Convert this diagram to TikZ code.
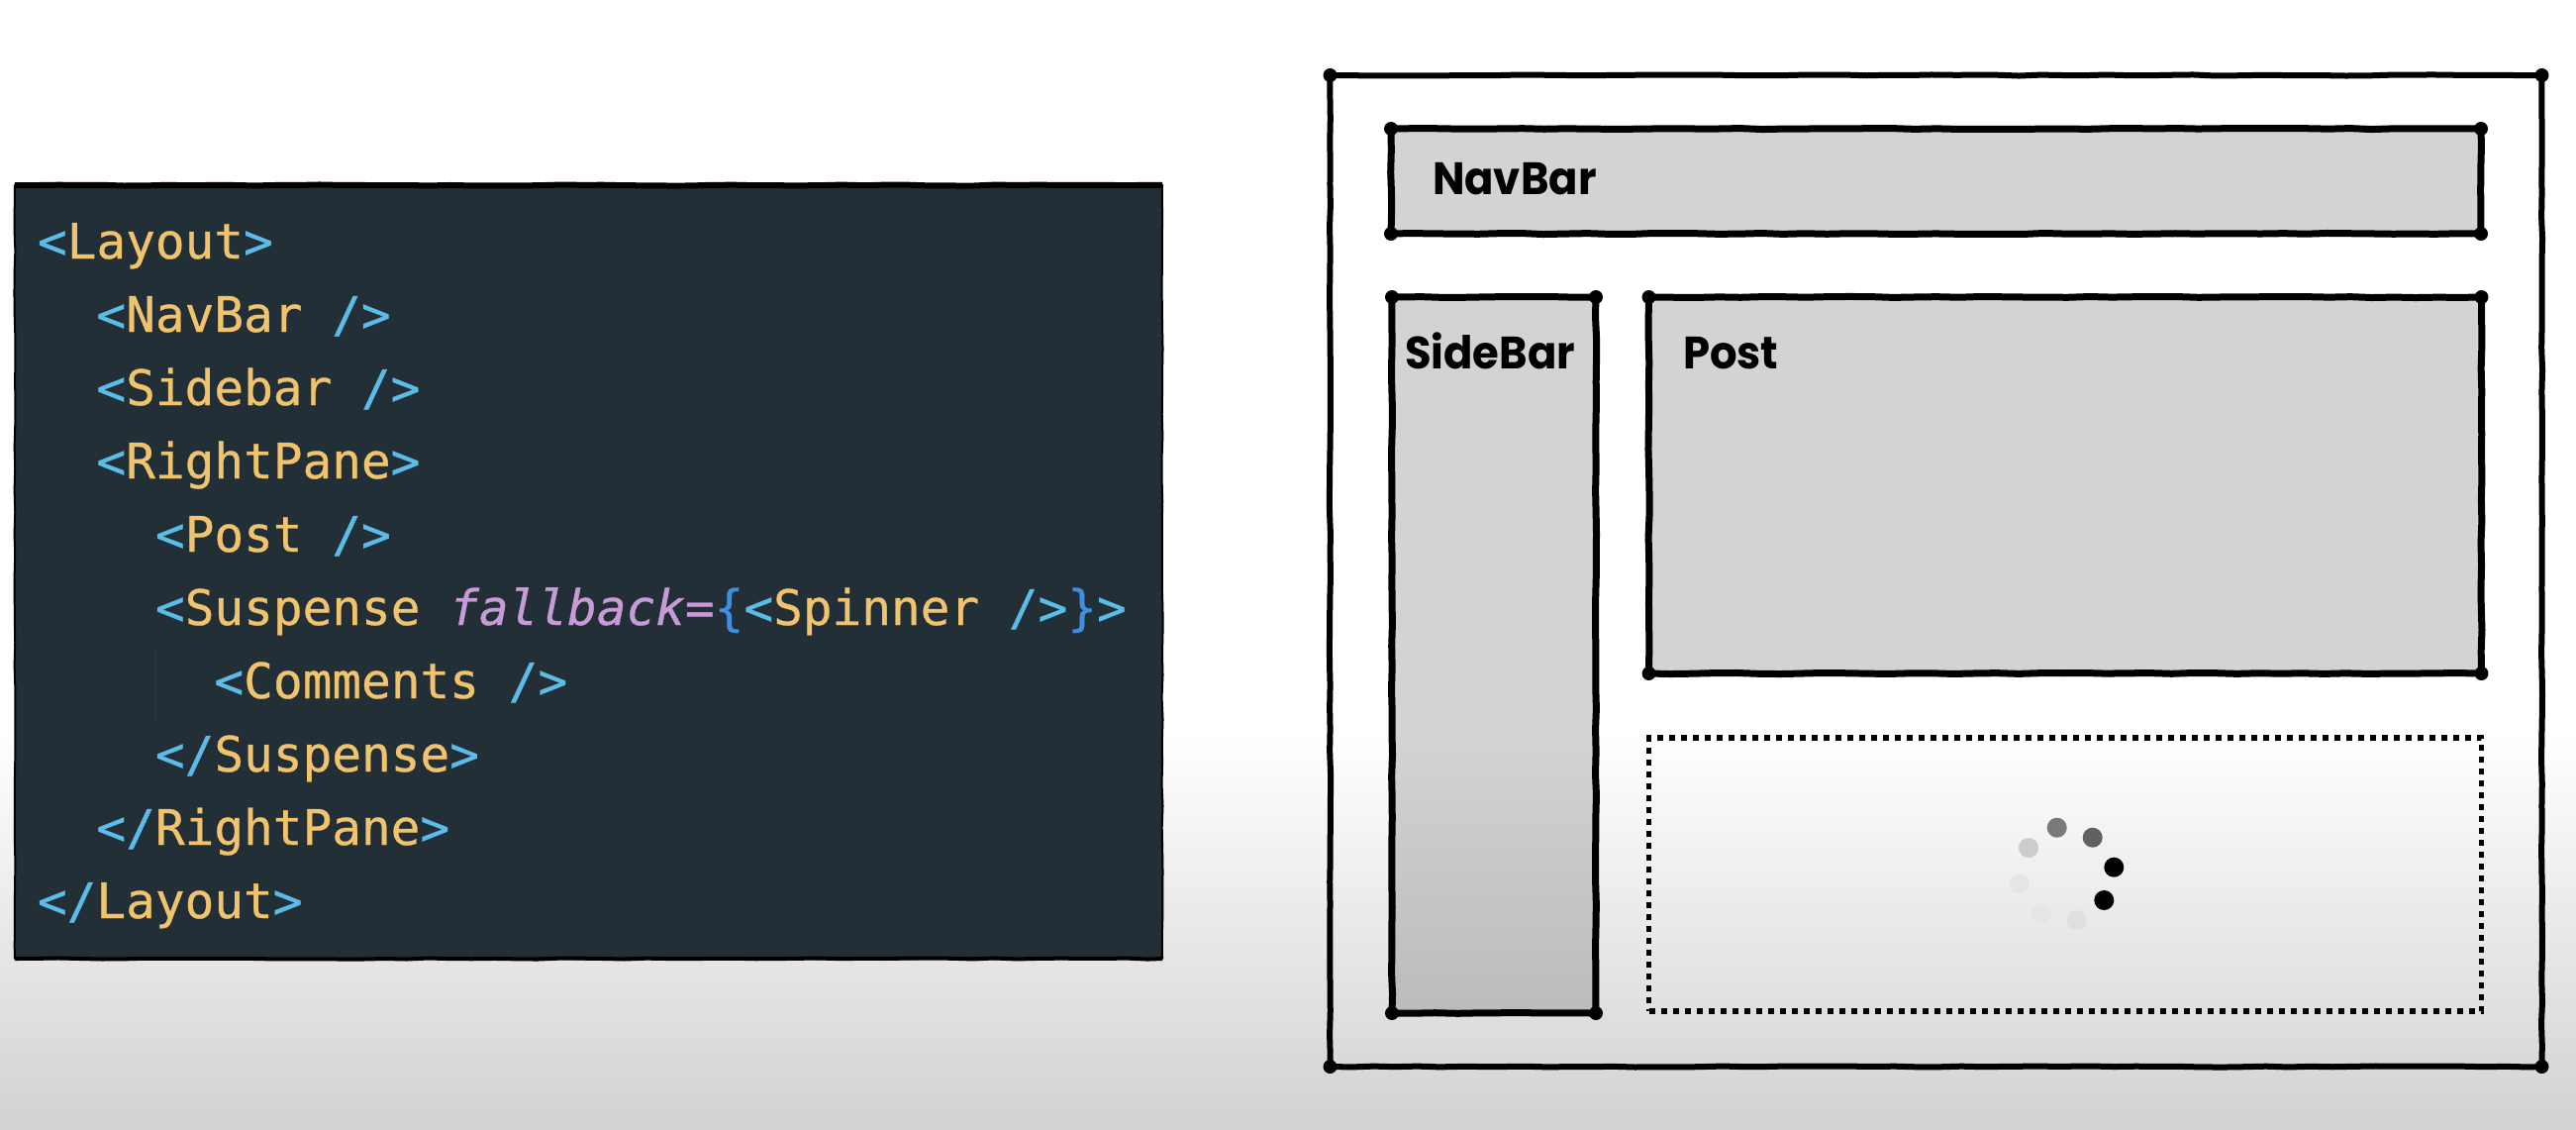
\documentclass[tikz,border=0pt]{standalone}
\usepackage{fontspec}
\usetikzlibrary{decorations.pathmorphing,calc}
\newfontfamily\codefont[FakeBold=0.6]{DejaVu Sans Mono}
\newfontfamily\labelfont[FakeStretch=0.945]{Poppins}
\definecolor{panelbg}{HTML}{232F37}
\definecolor{cTag}{HTML}{5CBCE8}
\definecolor{cName}{HTML}{F0C36E}
\definecolor{cAttr}{HTML}{C79BD8}
\definecolor{cBrace}{HTML}{3F8FDE}
\definecolor{guide}{HTML}{2A363E}
\definecolor{boxgray}{HTML}{D3D3D3}
\definecolor{boxlow}{HTML}{BBBBBB}
\definecolor{floorgray}{HTML}{D2D2D2}
\pgfdeclareverticalshading{sideshade}{100bp}{color(0bp)=(boxlow); color(25bp)=(boxlow); color(44.2bp)=(boxgray); color(100bp)=(boxgray)}
\newcommand{\tg}[1]{\textcolor{cTag}{#1}}
\tikzset{
  wobble/.style={decorate,decoration={random steps,segment length=22bp,amplitude=0.55bp}},
  sketchbox/.style={draw=black,line width=#1,wobble,inner sep=0pt,outer sep=0pt,line join=round},
  sketchbox/.default=7bp,
  codeline/.style={anchor=base west,inner sep=0pt,outer sep=0pt,font=\codefont\fontsize{49.55}{60}\selectfont,text=cName},
  boxlabel/.style={anchor=base west,inner sep=0pt,outer sep=0pt,font=\labelfont\bfseries\fontsize{46}{56}\selectfont,text=black},
  spindot/.style={circle,inner sep=0pt,minimum size=20bp,fill=#1},
}
\begin{document}
\begin{tikzpicture}[x=1bp,y=-1bp]
\useasboundingbox (0,0) rectangle (2602,1140);
\pgfmathsetseed{11}
% background
\fill[white] (0,0) rectangle (2602,1140);
\shade[top color=white,bottom color=floorgray] (0,740) rectangle (2602,1140);

% code panel
\node (panel) at (594.5,577.5) [rectangle,fill=panelbg,sketchbox=2bp,minimum width=1159bp,minimum height=781bp] {};
\draw[line width=6bp,wobble] (panel.north west) -- (panel.north east);
\draw[line width=4bp,wobble] (panel.south west) -- (panel.south east);
\coordinate (guideA) at (157,657);
\coordinate (guideB) at (157,727);
\draw[guide,line width=2.5bp] (guideA) -- (guideB);

\node[codeline] (l1) at (38,261) {\tg{<}Layout\tg{>}};
\node[codeline] (l2) at (97.5,335) {\tg{<}NavBar \tg{/>}};
\node[codeline] (l3) at (97.5,409) {\tg{<}Sidebar \tg{/>}};
\node[codeline] (l4) at (97.5,483) {\tg{<}RightPane\tg{>}};
\node[codeline] (l5) at (157,557) {\tg{<}Post \tg{/>}};
\node[codeline] (l6) at (157,631) {\tg{<}Suspense \textcolor{cAttr}{\itshape fallback=}\textcolor{cBrace}{\{}\tg{<}Spinner \tg{/>}\textcolor{cBrace}{\}}\tg{>}};
\node[codeline] (l7) at (216.5,705) {\tg{<}Comments \tg{/>}};
\node[codeline] (l8) at (157,779) {\tg{</}Suspense\tg{>}};
\node[codeline] (l9) at (97.5,853) {\tg{</}RightPane\tg{>}};
\node[codeline] (l10) at (38,927) {\tg{</}Layout\tg{>}};

% wireframe
\node (outer) at (1955.5,576.5) [rectangle,sketchbox=6bp,minimum width=1224bp,minimum height=1001bp] {};
\node (navbar) at (1955.5,183) [rectangle,sketchbox,fill=boxgray,minimum width=1101bp,minimum height=106bp] {};
\node (sidebar) at (1509,661.5) [rectangle,sketchbox,shade,shading=sideshade,minimum width=206bp,minimum height=723bp] {};
\node (post) at (2086,490) [rectangle,sketchbox,fill=boxgray,minimum width=841bp,minimum height=380bp] {};
\node (slot) at (2086,883) [rectangle,draw=black,line width=5.5bp,dash pattern=on 6bp off 6bp,inner sep=0pt,outer sep=0pt,minimum width=841bp,minimum height=276bp] {};

\foreach \b in {outer,navbar,sidebar,post}
  \foreach \c in {north west,north east,south west,south east}
    \fill (\b.\c) circle (7bp);

\node[boxlabel] (navlabel) at (1447,196) {NavBar};
\node[boxlabel] (sidelabel) at (1419,372) {SideBar};
\node[boxlabel] (postlabel) at (1700,372) {Post};

% spinner
\node[spindot=black!52] (s1) at (2077.7,835.7) {};
\node[spindot=black!62] (s2) at (2113.7,845.7) {};
\node[spindot=black] (s3) at (2135.3,875.7) {};
\node[spindot=black] (s4) at (2125.3,909) {};
\node[spindot=black!12] (s5) at (2097.7,929.3) {};
\node[spindot=black!10] (s6) at (2061.7,922.3) {};
\node[spindot=black!10] (s7) at (2039.7,892.3) {};
\node[spindot=black!20] (s8) at (2049,856) {};
\end{tikzpicture}
\end{document}
